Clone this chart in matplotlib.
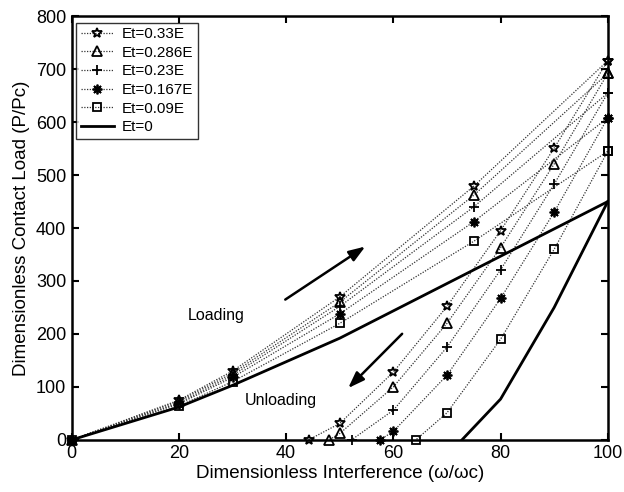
import matplotlib
matplotlib.use("Agg")
import matplotlib.pyplot as plt

plt.rcParams['font.family'] = ['Liberation Sans', 'DejaVu Sans']

# loading branch (common interference steps)
x_load = [0, 20, 30, 50, 75, 100]

# Et=0.33E
p33_load = [0, 75, 130, 270, 479, 716]
p33_ux = [100, 90, 80, 70, 60, 50, 44.2]
p33_uy = [716, 551, 395, 252, 128, 31, 0]
# Et=0.286E
p286_load = [0, 73, 126, 260, 462, 692]
p286_ux = [100, 90, 80, 70, 60, 50, 48]
p286_uy = [692, 521, 363, 220, 100, 12, 0]
# Et=0.23E
p23_load = [0, 70, 122, 252, 440, 655]
p23_ux = [100, 90, 80, 70, 60, 52.2]
p23_uy = [655, 483, 321, 175, 56, 0]
# Et=0.167E
p167_load = [0, 68, 118, 238, 412, 608]
p167_ux = [100, 90, 80, 70, 60, 57.5]
p167_uy = [608, 430, 267, 122, 16, 0]
# Et=0.09E
p09_load = [0, 64, 110, 220, 375, 545]
p09_ux = [100, 90, 80, 70, 64.2]
p09_uy = [545, 360, 190, 51, 0]
# Et=0
p0_load = [0, 62, 103, 192, 321, 450]
p0_ux = [100, 90, 80, 72.8]
p0_uy = [450, 250, 77, 0]

labels = ['Et=0.33E', 'Et=0.286E', 'Et=0.23E', 'Et=0.167E', 'Et=0.09E']
markers = ['*', '^', '+', (8, 2, 0), 's']
msizes = [7.5, 6.5, 7, 7, 5.5]
series = [(p33_load, p33_ux, p33_uy), (p286_load, p286_ux, p286_uy),
          (p23_load, p23_ux, p23_uy), (p167_load, p167_ux, p167_uy),
          (p09_load, p09_ux, p09_uy)]

fig = plt.figure(figsize=(6.24, 4.92), dpi=100)
ax = fig.add_axes([0.115, 0.106, 0.859, 0.861])

dots = (0, (1, 1.2))
for (yl, ux, uy), lab, m, ms in zip(series, labels, markers, msizes):
    kw = dict(color='#333333', linestyle=dots, linewidth=0.9, marker=m, markersize=ms,
              markerfacecolor='none', markeredgecolor='k', markeredgewidth=1.3,
              clip_on=False)
    ax.plot(x_load, yl, label=lab, **kw)
    ax.plot(ux, uy, **kw)

ax.plot(x_load, p0_load, color='k', linewidth=2, label='Et=0')
ax.plot(p0_ux, p0_uy, color='k', linewidth=2)

ax.annotate('', xy=(55.2, 368), xytext=(39.4, 262),
            arrowprops=dict(arrowstyle='-|>,head_length=0.7,head_width=0.25',
                            color='k', lw=1.8, mutation_scale=14))
ax.annotate('', xy=(51.2, 94), xytext=(62, 204),
            arrowprops=dict(arrowstyle='-|>,head_length=0.7,head_width=0.25',
                            color='k', lw=1.8, mutation_scale=14))
ax.text(27, 235, 'Loading', fontsize=11.5, ha='center', va='center')
ax.text(39, 75, 'Unloading', fontsize=11.5, ha='center', va='center')

ax.set(xlim=(0, 100), ylim=(0, 800))
ax.set_xticks(range(0, 101, 20))
ax.set_yticks(range(0, 801, 100))
ax.tick_params(direction='in', length=5, width=1.5, labelsize=13,
               top=True, right=True, pad=4)
for s in ax.spines.values():
    s.set_linewidth(1.8)
ax.set_xlabel('Dimensionless Interference (ω/ωc)', fontsize=13.5, labelpad=2)
ax.set_ylabel('Dimensionless Contact Load (P/Pc)', fontsize=13.5, labelpad=4)

leg = ax.legend(loc='upper left', bbox_to_anchor=(0.008, 0.985), fontsize=11,
                frameon=True, fancybox=False, handlelength=2.2,
                borderaxespad=0, labelspacing=0.3, borderpad=0.3,
                handletextpad=0.5)
leg.get_frame().set_edgecolor('k')
leg.get_frame().set_linewidth(1.0)

fig.savefig('out.png', dpi=100)
